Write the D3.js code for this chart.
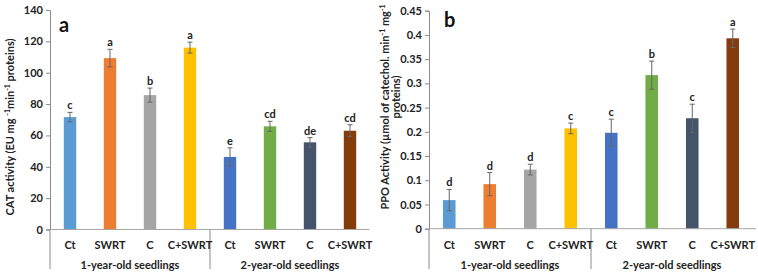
<!DOCTYPE html>
<html>
<head>
<meta charset="utf-8">
<script src="https://cdn.jsdelivr.net/npm/d3@7.9.0/dist/d3.min.js"></script>
<style>
  body { margin: 0; background: #fff; }
  svg { font-family: Lato, "Noto Sans", sans-serif; font-weight: bold; }
</style>
</head>
<body>
<svg id="chart" width="758" height="276"></svg>
<script>
// --- data ---
const treatments = ["Ct", "SWRT", "C", "C+SWRT"];
const groups = ["1-year-old seedlings", "2-year-old seedlings"];
const colors = ["#5B9BD5", "#ED7D31", "#A5A5A5", "#FFC000",
                "#4472C4", "#70AD47", "#44546A", "#843C0C"];

const catValues = [71.7, 109.3, 85.7, 116, 46.3, 65.8, 55.6, 63];
const catErrors = [3, 5.6, 4.5, 3.5, 5.8, 3.2, 3, 3.8];
const catLetters = ["c", "a", "b", "a", "e", "cd", "de", "cd"];
const catTicks = [0, 20, 40, 60, 80, 100, 120, 140];

const ppoValues = [0.059, 0.092, 0.122, 0.207, 0.198, 0.317, 0.228, 0.393];
const ppoErrors = [0.022, 0.024, 0.011, 0.011, 0.028, 0.029, 0.029, 0.019];
const ppoLetters = ["d", "d", "d", "c", "c", "b", "c", "a"];
const ppoTicks = [0, 0.05, 0.1, 0.15, 0.2, 0.25, 0.3, 0.35, 0.4, 0.45];

const svg = d3.select("#chart");

// one bar panel, Excel style with a two-level category axis
function drawPanel(opts) {
  const g = svg.append("g");
  const keys = d3.range(opts.values.length);

  const x = d3.scaleBand().domain(keys).range([opts.x0, opts.x1]).paddingInner(0.69).paddingOuter(0.345);
  const y = d3.scaleLinear().domain([0, d3.max(opts.ticks)]).range([opts.yBottom, opts.yTop]);

  // y axis
  const yAxis = d3.axisLeft(y).tickValues(opts.ticks).tickSize(4).tickFormat(opts.fmt);
  const ya = g.append("g").attr("transform", `translate(${opts.x0},0)`).call(yAxis);
  ya.select(".domain").attr("stroke", "#8c8c8c");
  ya.selectAll(".tick line").attr("stroke", "#8c8c8c");
  ya.selectAll(".tick text").attr("font-size", 11).attr("font-weight", "bold")
    .attr("font-family", "Lato, sans-serif").attr("fill", "#222").attr("x", -7);

  // bars
  g.selectAll("rect.bar").data(keys).join("rect")
    .attr("x", d => x(d))
    .attr("width", x.bandwidth())
    .attr("y", d => y(opts.values[d]))
    .attr("height", d => opts.yBottom - y(opts.values[d]))
    .attr("fill", d => colors[d]);

  // error bars
  const cx = d => x(d) + x.bandwidth() / 2;
  const eb = g.selectAll("g.err").data(keys).join("g").attr("stroke", "#666").attr("stroke-width", 1);
  eb.append("line").attr("x1", cx).attr("x2", cx)
    .attr("y1", d => y(opts.values[d] + opts.errors[d]))
    .attr("y2", d => y(opts.values[d] - opts.errors[d]));
  eb.append("line").attr("x1", d => cx(d) - 2.5).attr("x2", d => cx(d) + 2.5)
    .attr("y1", d => y(opts.values[d] + opts.errors[d]))
    .attr("y2", d => y(opts.values[d] + opts.errors[d]));
  eb.append("line").attr("x1", d => cx(d) - 2.5).attr("x2", d => cx(d) + 2.5)
    .attr("y1", d => y(opts.values[d] - opts.errors[d]))
    .attr("y2", d => y(opts.values[d] - opts.errors[d]));

  // significance letters
  g.selectAll("text.sig").data(keys).join("text")
    .attr("x", cx)
    .attr("y", d => y(opts.values[d] + opts.errors[d]) - 3)
    .attr("text-anchor", "middle").attr("font-size", 11).attr("fill", "#222")
    .text(d => opts.letters[d]);

  // x axis line and group separators
  g.append("line").attr("x1", opts.x0).attr("x2", opts.xEnd)
    .attr("y1", opts.yBottom).attr("y2", opts.yBottom).attr("stroke", "#a6a6a6");
  const mid = x(4) - x.step() * x.paddingInner() / 2;
  [opts.x0, mid].forEach(px => {
    g.append("line").attr("x1", px).attr("x2", px)
      .attr("y1", opts.yBottom).attr("y2", 269).attr("stroke", "#8c8c8c");
  });

  // category labels
  g.selectAll("text.cat").data(keys).join("text")
    .attr("x", cx).attr("y", 249)
    .attr("text-anchor", "middle").attr("font-size", 11).attr("fill", "#222")
    .text(d => treatments[d % 4]);

  // group labels
  groups.forEach((name, i) => {
    const a = i === 0 ? opts.x0 : mid;
    const b = i === 0 ? mid : opts.x1;
    g.append("text").attr("x", (a + b) / 2).attr("y", 269)
      .attr("text-anchor", "middle").attr("font-size", 11).attr("fill", "#222")
      .text(name);
  });

  // panel letter
  g.append("text").attr("x", opts.labelX).attr("y", opts.labelY)
    .attr("font-size", 20).attr("fill", "#111").text(opts.label);

  return g;
}

drawPanel({
  values: catValues, errors: catErrors, letters: catLetters, ticks: catTicks,
  fmt: d3.format("d"),
  x0: 50, x1: 370, xEnd: 369, yTop: 10, yBottom: 229.5,
  label: "a", labelX: 59, labelY: 32
});

drawPanel({
  values: ppoValues, errors: ppoErrors, letters: ppoLetters, ticks: ppoTicks,
  fmt: d => d === 0 ? "0" : String(+d.toFixed(2)),
  x0: 429, x1: 753, xEnd: 756, yTop: 10.7, yBottom: 228.7,
  label: "b", labelX: 444, labelY: 27
});

// y axis titles
svg.append("text")
  .attr("transform", "translate(14,127) rotate(-90)")
  .attr("text-anchor", "middle").attr("font-size", 11).attr("fill", "#222")
  .html('CAT activity (EU mg <tspan baseline-shift="super" font-size="7">-1</tspan>min<tspan baseline-shift="super" font-size="7">-1</tspan> proteins)');

svg.append("text")
  .attr("transform", "translate(389,107) rotate(-90)")
  .attr("text-anchor", "middle").attr("font-size", 11).attr("fill", "#222")
  .html('PPO Activity  (µmol of catechol. min<tspan baseline-shift="super" font-size="7">-1</tspan> mg<tspan baseline-shift="super" font-size="7">-1</tspan>');

svg.append("text")
  .attr("transform", "translate(400,97) rotate(-90)")
  .attr("text-anchor", "middle").attr("font-size", 11).attr("fill", "#222")
  .text("proteins)");
</script>
</body>
</html>
